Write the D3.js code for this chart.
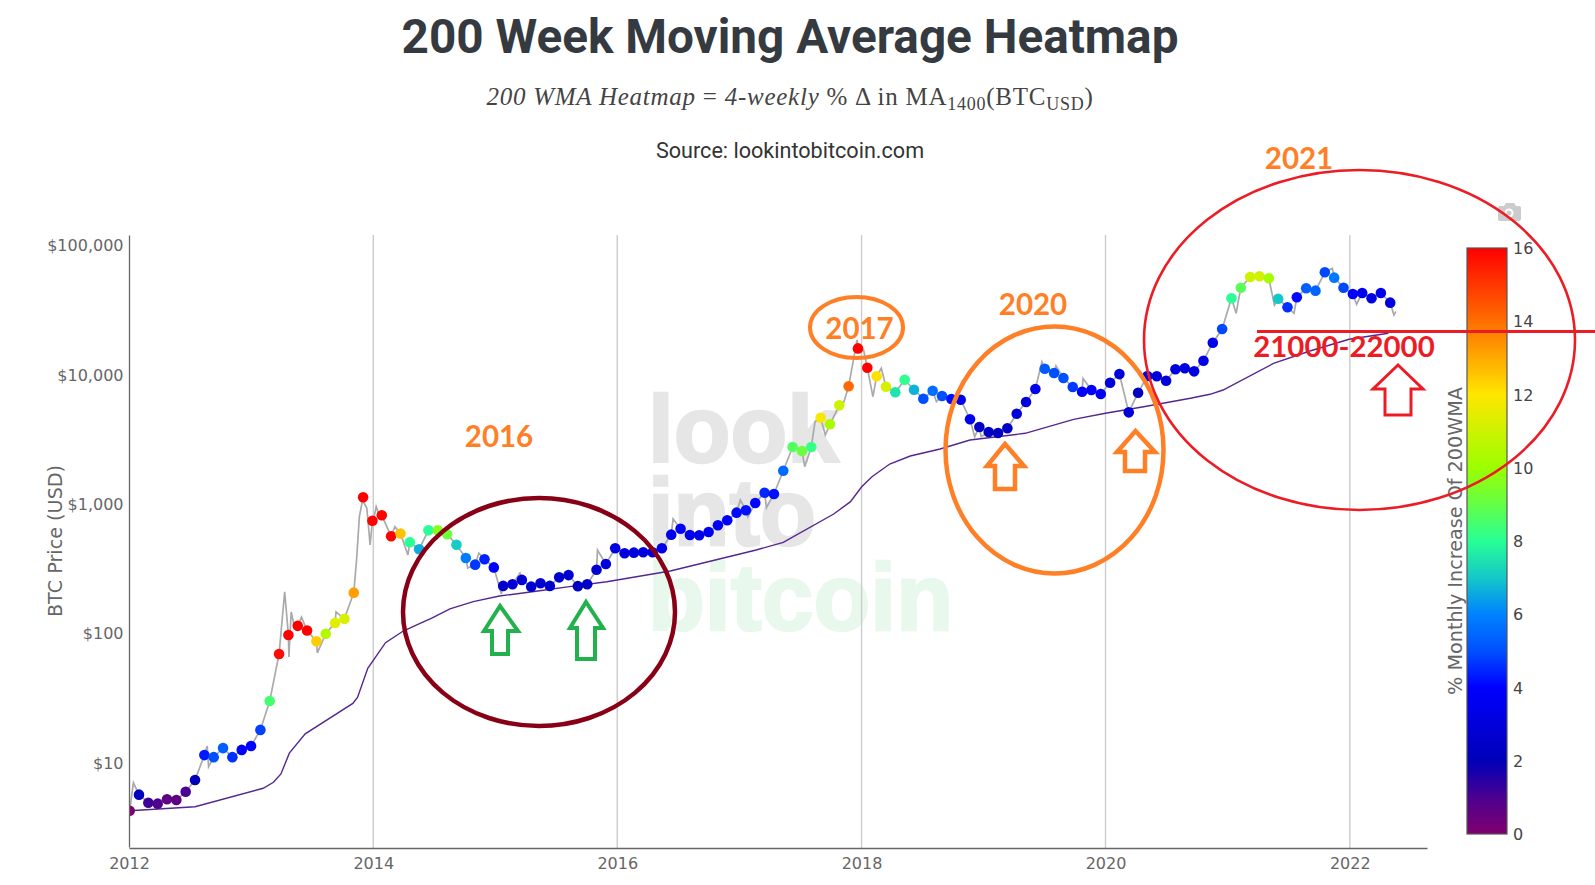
<!DOCTYPE html>
<html>
<head>
<meta charset="utf-8">
<title>200 Week Moving Average Heatmap</title>
<script src="https://cdn.jsdelivr.net/npm/d3@7"></script>
<style>
  html, body { margin: 0; padding: 0; background: #fff; overflow: hidden; }
  svg { display: block; }
</style>
</head>
<body>
<svg id="chart" width="1595" height="885"></svg>
<script>
// values, one dot every 4 weeks from the start of 2012
const axisStart = new Date(Date.UTC(2012, 0, 1));
const firstDot = new Date(Date.UTC(2012, 0, 3));
const stepDays = 27.94;
const dotPrices = [
  4.2, 5.59, 4.84, 4.76, 5.15, 5.08, 5.89, 7.26, 11.3, 10.9, 12.8, 10.9, 12.4, 13.3, 17.7, 29.6,
  68.4, 96, 113, 104, 85.8, 98.2, 119, 128, 204, 1115, 735, 809, 557, 585, 500, 442,
  619, 619, 577, 479, 378, 336, 370, 320, 230, 237, 256, 227, 241, 230, 268, 279,
  229, 237, 307, 340, 450, 411, 416, 419, 419, 450, 573, 637, 570, 567, 601, 677,
  740, 848, 884, 1007, 1210, 1183, 1790, 2730, 2540, 2730, 4600, 4090, 5740, 8050, 15800, 11200,
  9620, 7990, 7230, 9050, 7570, 6450, 7440, 6770, 6420, 6340, 4470, 3900, 3570, 3500, 3810, 4940,
  6080, 7670, 11000, 10200, 9330, 7950, 7310, 7530, 7020, 8580, 10000, 5060, 7180, 9670, 9620, 8890,
  10900, 11100, 10500, 12700, 17500, 22300, 38600, 46600, 56400, 57100, 55100, 38300, 32900, 39300, 46100, 44200,
  61300, 55700, 46600, 41600, 42400, 38600, 42400, 35700
];
const dotHeat = [
  0, 2.2, 1.2, 0.9, 0.6, 0.6, 1, 2, 4.3, 5, 5.3, 4.6, 3.8, 4, 4.8, 8.5,
  15.8, 16, 16, 16, 12.4, 10.5, 11.4, 11.2, 13.2, 16, 16, 16, 16, 12.6, 8, 6.6,
  8, 9.6, 9.2, 7.1, 5.9, 4.7, 4.4, 4, 2.6, 2.8, 2.8, 2.6, 2.7, 2.6, 2.6, 2.7,
  2.3, 2.4, 2.7, 3, 3.2, 3, 3, 3, 3, 3.3, 3.5, 3.9, 3.5, 3.4, 3.6, 3.7,
  3.8, 4.1, 4.2, 4, 4.5, 4.2, 5.5, 8.7, 9.1, 8.2, 11.9, 10.3, 11, 14.1, 16, 16,
  12.1, 11.2, 7.5, 8.1, 6.7, 5, 5.6, 5, 4.2, 3.5, 3.6, 2.4, 2.3, 2.3, 2.4, 2.9,
  3, 3.4, 5.2, 5, 5, 4.7, 3.8, 3.7, 3.5, 3, 2.9, 2.8, 2.3, 3, 2.9, 2.9,
  3, 3.1, 3, 3.2, 3.4, 4.9, 8, 8.8, 11, 11.1, 10.2, 7, 4.6, 4.1, 5.3, 5.4,
  4.9, 5.8, 4.9, 3.9, 3.5, 3.1, 3.5, 3.1
];

// grey price line swings between the dots, position in 4-week steps
const swingSteps = [
  0.4, 8.3, 8.45, 16.6, 17.05, 17.3, 17.6, 18.4, 20.1, 22.1, 24.3, 24.6, 25.1, 25.4, 25.75, 26.05,
  26.4, 26.8, 28.4, 29.8, 36.2, 37.4, 39.8, 41.8, 50.1, 58.2, 65.4, 66.2, 68.2, 72.3, 73.4, 74.5,
  76.5, 77.9, 78.6, 79.6, 80.5, 86.4, 90.5, 91.2, 97.7, 99.2, 102.1, 118.5, 122.6, 124.7, 128.8, 131.4,
  135.4, 135.6
];
const swingPrices = [
  6.9, 13.3, 9.2, 207, 65, 145, 115, 132, 69.7, 145, 365, 789, 1007, 917, 477, 705,
  943, 789, 661, 399, 316, 413, 199, 289, 436, 757, 1062, 789, 926, 1923, 4285, 3380,
  6112, 18370, 15350, 6690, 11090, 6112, 3280, 3280, 12470, 11560, 9270, 29500, 34200, 29500, 65800, 34700,
  28600, 30400
];

// 200 week moving average
const maSteps = [
  0, 7, 14.3, 15.4, 16.2, 17.1, 18.8, 23.9, 24.4, 25.5, 27.4, 29.3, 31.1, 32.3, 34.3, 36.8,
  39.6, 43.9, 47.1, 51.1, 57.9, 67.1, 70, 75.4, 77.2, 78.4, 79.5, 81.4, 83.6, 86.8, 90, 95.9,
  101.1, 104.5, 108.6, 113.6, 115.7, 117.1, 122.5, 126.4, 130.6, 134.8
];
const maPrices = [
  4.2, 4.51, 6.26, 6.97, 8.08, 11.7, 16.5, 28.4, 31.6, 53, 83.7, 103, 118, 129, 153, 174,
  192, 211, 227, 248, 300, 436, 500, 828, 1031, 1346, 1609, 2017, 2326, 2635, 3093, 3484,
  4470, 4975, 5595, 6500, 6980, 7530, 12100, 15100, 18600, 20700
];

const yearTicks = [2012, 2014, 2016, 2018, 2020, 2022];
const priceTicks = [10, 100, 1000, 10000, 100000];
const heatTicks = [0, 2, 4, 6, 8, 10, 12, 14, 16];
const heatStops = [0, 1, 2, 3, 4, 5, 6, 7, 8, 9, 10, 12, 14, 16];
const heatColors = [
  "#80006e", "#4a0090", "#0000b8", "#0000dc", "#0000ff", "#0050ff", "#0082ff", "#14c8c8",
  "#28ff96", "#64ff46", "#9bff00", "#ffe600", "#ff6e00", "#ff0000"
];

const tickFont = "'DejaVu Sans', sans-serif";
const svg = d3.select("#chart");

const stepDate = s => new Date(firstDot.getTime() + s * stepDays * 864e5);

const x = d3.scaleUtc()
  .domain([axisStart, new Date(Date.UTC(2022, 7, 20))])
  .range([129, 1427]);
const y = d3.scaleLog().domain([2.2, 119100]).range([847, 235]);
const heat = d3.scaleLinear().domain(heatStops).range(heatColors).clamp(true);
const heatY = d3.scaleLinear().domain([0, 16]).range([834, 248]);

// titles
svg.append("text")
  .attr("x", 790).attr("y", 53)
  .attr("text-anchor", "middle")
  .style("font", "700 47.7px Roboto, sans-serif")
  .attr("fill", "#343a40")
  .text("200 Week Moving Average Heatmap");

const formula = svg.append("text")
  .attr("x", 790).attr("y", 105)
  .attr("text-anchor", "middle")
  .attr("fill", "#444")
  .style("font", "25px 'Liberation Serif', serif")
  .style("letter-spacing", "0.75px");
formula.append("tspan").style("font-style", "italic").text("200 WMA Heatmap");
formula.append("tspan").text(" = ");
formula.append("tspan").style("font-style", "italic").text("4-weekly");
formula.append("tspan").text(" % \u0394 in MA");
formula.append("tspan").attr("dy", 5).style("font-size", "18px").text("1400");
formula.append("tspan").attr("dy", -5).text("(BTC");
formula.append("tspan").attr("dy", 5).style("font-size", "18px").text("USD");
formula.append("tspan").attr("dy", -5).text(")");

svg.append("text")
  .attr("x", 790).attr("y", 158)
  .attr("text-anchor", "middle")
  .style("font", "21.6px Roboto, sans-serif")
  .attr("fill", "#333")
  .text("Source: lookintobitcoin.com");

// watermark
const watermark = [
  ["look", 462, "#e6e6e6", 191],
  ["into", 545, "#e6e6e6", 168],
  ["bitcoin", 630, "#e8f8ec", 305]
];
watermark.forEach(d => {
  svg.append("text")
    .attr("x", 648).attr("y", d[1])
    .attr("fill", d[2])
    .attr("stroke", d[2])
    .attr("stroke-width", 2.5)
    .attr("textLength", d[3])
    .attr("lengthAdjust", "spacingAndGlyphs")
    .style("font", "700 95px 'Liberation Sans', sans-serif")
    .text(d[0]);
});

// year grid
svg.append("g")
  .selectAll("line")
  .data(yearTicks.slice(1))
  .join("line")
  .attr("x1", d => x(new Date(Date.UTC(d, 0, 1))))
  .attr("x2", d => x(new Date(Date.UTC(d, 0, 1))))
  .attr("y1", 235).attr("y2", 848)
  .attr("stroke", "#ccc")
  .attr("stroke-width", 1.4);

svg.append("clipPath").attr("id", "plot")
  .append("rect").attr("x", 129).attr("y", 235).attr("width", 1298).attr("height", 612);
const plot = svg.append("g").attr("clip-path", "url(#plot)");

// grey price line: dots plus the swings between them
const pricePoints = dotPrices.map((p, i) => [i, p])
  .concat(swingSteps.map((s, i) => [s, swingPrices[i]]))
  .sort((a, b) => a[0] - b[0]);
const line = d3.line().x(d => x(stepDate(d[0]))).y(d => y(d[1]));

plot.append("path")
  .attr("d", line(pricePoints))
  .attr("fill", "none")
  .attr("stroke", "#aaa")
  .attr("stroke-width", 1.7);

plot.append("path")
  .attr("d", line(maSteps.map((s, i) => [s, maPrices[i]])))
  .attr("fill", "none")
  .attr("stroke", "#54278f")
  .attr("stroke-width", 1.4);

plot.selectAll("circle")
  .data(dotPrices)
  .join("circle")
  .attr("cx", (d, i) => x(stepDate(i)))
  .attr("cy", d => y(d))
  .attr("r", 5.3)
  .attr("fill", (d, i) => heat(dotHeat[i]));

// axes
const xAxis = svg.append("g")
  .attr("transform", "translate(0,848)")
  .call(d3.axisBottom(x)
    .tickValues(yearTicks.map(d => new Date(Date.UTC(d, 0, 1))))
    .tickFormat(d3.utcFormat("%Y"))
    .tickSize(0)
    .tickPadding(9.5));
const yAxis = svg.append("g")
  .attr("transform", "translate(129,0)")
  .call(d3.axisLeft(y)
    .tickValues(priceTicks)
    .tickFormat(d => "$" + d3.format(",")(d))
    .tickSize(0)
    .tickPadding(5.5));
[xAxis, yAxis].forEach(a => {
  a.select(".domain").attr("stroke", "#666").attr("stroke-width", 1.3);
  a.selectAll("text").style("font", "16px " + tickFont).attr("fill", "#666");
});
yAxis.selectAll("text").attr("y", 1);

svg.append("text")
  .attr("transform", "translate(62,541) rotate(-90)")
  .attr("text-anchor", "middle")
  .style("font", "19.2px " + tickFont)
  .attr("fill", "#666")
  .text("BTC Price (USD)");

// colour bar
const gradient = svg.append("defs").append("linearGradient")
  .attr("id", "heatGradient")
  .attr("x1", 0).attr("x2", 0).attr("y1", 1).attr("y2", 0);
gradient.selectAll("stop")
  .data(heatStops)
  .join("stop")
  .attr("offset", d => d / 16)
  .attr("stop-color", d => heat(d));

svg.append("rect")
  .attr("x", 1467).attr("y", heatY(16))
  .attr("width", 40).attr("height", heatY(0) - heatY(16))
  .attr("fill", "url(#heatGradient)")
  .attr("stroke", "#555")
  .attr("stroke-width", 1.2);

svg.append("g")
  .selectAll("text")
  .data(heatTicks)
  .join("text")
  .attr("x", 1513)
  .attr("y", d => heatY(d) + 6)
  .style("font", "16px " + tickFont)
  .attr("fill", "#444")
  .text(d => d);

svg.append("text")
  .attr("transform", "translate(1462,541) rotate(-90)")
  .attr("text-anchor", "middle")
  .style("font", "19.2px " + tickFont)
  .attr("fill", "#666")
  .text("% Monthly Increase Of 200WMA");

// camera button
const camera = svg.append("g").attr("fill", "#ccc");
camera.append("path")
  .attr("d", "M1500 206h4l2-3h8l2 3h3a2 2 0 0 1 2 2v11a2 2 0 0 1-2 2h-19a2 2 0 0 1-2-2v-11a2 2 0 0 1 2-2z");
camera.append("circle").attr("cx", 1509).attr("cy", 213).attr("r", 4.5).attr("fill", "#fff");
camera.append("circle").attr("cx", 1509).attr("cy", 213).attr("r", 2.5);

// hand drawn notes on top of the chart
const noteEllipses = [
  [539, 612, 136, 114, "#880015", 4.5],
  [1054.5, 450, 109, 123.5, "#ff7f27", 4.5],
  [856.5, 327.5, 46.5, 30.5, "#ff7f27", 4],
  [1359.5, 340, 215.5, 170, "#ed1c24", 2.6]
];
const noteArrows = [
  [500, 606, 484, 518, 631, 492, 508, 654, "#22b14c", 4],
  [586, 602, 570, 603, 628, 577, 595, 659, "#22b14c", 4],
  [1005, 444, 987, 1024, 466, 995, 1015, 489, "#ff7f27", 4.5],
  [1135.5, 431, 1117, 1155, 452, 1125, 1145, 471, "#ff7f27", 4.5],
  [1398, 365, 1373, 1423, 389, 1385, 1411, 415, "#ed1c24", 3]
];
const noteLabels = [
  ["2016", 499, 447, "#ff7f27"],
  ["2017", 859.5, 339, "#ff7f27"],
  ["2020", 1033, 315, "#ff7f27"],
  ["2021", 1299, 169, "#ff7f27"]
];

svg.append("g")
  .selectAll("ellipse")
  .data(noteEllipses)
  .join("ellipse")
  .attr("cx", d => d[0]).attr("cy", d => d[1])
  .attr("rx", d => d[2]).attr("ry", d => d[3])
  .attr("fill", "none")
  .attr("stroke", d => d[4])
  .attr("stroke-width", d => d[5]);

svg.append("g")
  .selectAll("path")
  .data(noteArrows)
  .join("path")
  .attr("d", d => `M${d[0]} ${d[1]}L${d[3]} ${d[4]}H${d[6]}V${d[7]}H${d[5]}V${d[4]}H${d[2]}Z`)
  .attr("fill", "none")
  .attr("stroke", d => d[8])
  .attr("stroke-width", d => d[9]);

svg.append("line")
  .attr("x1", 1257).attr("x2", 1595)
  .attr("y1", 331.5).attr("y2", 331.5)
  .attr("stroke", "#ed1c24")
  .attr("stroke-width", 3);

svg.append("g")
  .selectAll("text")
  .data(noteLabels)
  .join("text")
  .attr("x", d => d[1]).attr("y", d => d[2])
  .attr("text-anchor", "middle")
  .attr("fill", d => d[3])
  .style("font", "700 29.5px Lato, sans-serif")
  .text(d => d[0]);

svg.append("text")
  .attr("x", 1344).attr("y", 357)
  .attr("text-anchor", "middle")
  .attr("fill", "#ed1c24")
  .style("font", "700 29.4px Lato, sans-serif")
  .text("21000-22000");
</script>
</body>
</html>
